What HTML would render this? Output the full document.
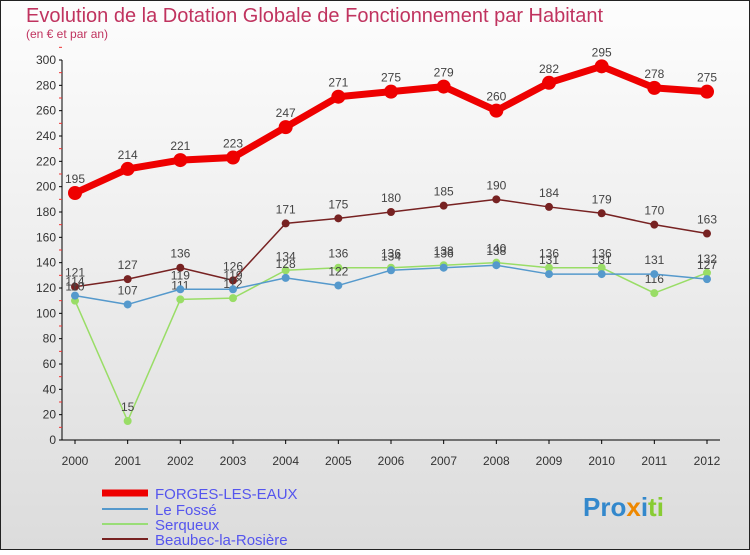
<!DOCTYPE html>
<html><head><meta charset="utf-8"><style>
body{margin:0;width:750px;height:550px;overflow:hidden;font-family:"Liberation Sans",sans-serif}
svg text{font-family:"Liberation Sans",sans-serif}
</style></head><body>
<svg width="750" height="550" xmlns="http://www.w3.org/2000/svg">
<defs><linearGradient id="bg" x1="0" y1="0" x2="0" y2="1"><stop offset="0" stop-color="#fdfdfd"/><stop offset="1" stop-color="#dcdcdc"/></linearGradient></defs>
<rect x="0.5" y="0.5" width="749" height="549" fill="url(#bg)" stroke="#222"/>
<text x="26" y="22" font-size="20" fill="#c0335f">Evolution de la Dotation Globale de Fonctionnement par Habitant</text>
<text x="26" y="38" font-size="12" fill="#c0335f">(en € et par an)</text>
<g id="axes"></g><g id="series"></g>
<g>
<line x1="102" y1="493" x2="148" y2="493" stroke="#ee0000" stroke-width="7"/><text x="155" y="499" font-size="15" fill="#5555ee">FORGES-LES-EAUX</text>
<line x1="102" y1="509" x2="148" y2="509" stroke="#5599cc" stroke-width="2"/><text x="155" y="515" font-size="15" fill="#5555ee">Le Fossé</text>
<line x1="102" y1="524" x2="148" y2="524" stroke="#99dd77" stroke-width="2"/><text x="155" y="530" font-size="15" fill="#5555ee">Serqueux</text>
<line x1="102" y1="539" x2="148" y2="539" stroke="#772222" stroke-width="2"/><text x="155" y="545" font-size="15" fill="#5555ee">Beaubec-la-Rosière</text>
</g>
<text x="583" y="516" font-size="26" font-weight="bold"><tspan fill="#3388cc">Pro</tspan><tspan fill="#ee8800">x</tspan><tspan fill="#3388cc">i</tspan><tspan fill="#88cc33">ti</tspan></text>
</svg>
<script>
const years=[2000,2001,2002,2003,2004,2005,2006,2007,2008,2009,2010,2011,2012];
const yTicks=[0,20,40,60,80,100,120,140,160,180,200,220,240,260,280,300];
const forges=[195,214,221,223,247,271,275,279,260,282,295,278,275];
const fosse=[114,107,119,119,128,122,134,136,138,131,131,131,127];
const serqueux=[110,15,111,112,134,136,136,138,140,136,136,116,132];
const beaubec=[121,127,136,126,171,175,180,185,190,184,179,170,163];
const NS="http://www.w3.org/2000/svg";
function xs(i){return 75+i*(707-75)/(years.length-1);}
function ys(v){return 440-v*380/300;}
function mk(t,a,p){const e=document.createElementNS(NS,t);for(const k in a)e.setAttribute(k,a[k]);p.appendChild(e);return e;}
const ax=document.getElementById('axes');
let yl=mk('line',{x1:62,y1:60,x2:62,y2:440,stroke:'#000'},ax);


yTicks.forEach(v=>{mk('line',{x1:59,y1:ys(v),x2:62,y2:ys(v),stroke:'#000'},ax);
mk('line',{x1:59,y1:ys(v+10),x2:62,y2:ys(v+10),stroke:'#e33'},ax);
const t=mk('text',{x:56,y:ys(v)+4,'font-size':12,'text-anchor':'end',fill:'#333'},ax);t.textContent=v;

});
let xl=mk('line',{x1:62,y1:440,x2:720,y2:440,stroke:'#000'},ax);


years.forEach((y,i)=>{mk('line',{x1:xs(i),y1:440,x2:xs(i),y2:444,stroke:'#000'},ax);
const t=mk('text',{x:xs(i),y:465,'font-size':12,'text-anchor':'middle',fill:'#333'},ax);t.textContent=y;

});
const sg=document.getElementById('series');
function draw(vals,color,w,r,name){const g=mk('g',{},sg);


mk('polyline',{points:vals.map((v,i)=>xs(i)+','+ys(v)).join(' '),fill:'none',stroke:color,'stroke-width':w,'stroke-linejoin':'round'},g);
vals.forEach((v,i)=>{const c=mk('circle',{cx:xs(i),cy:ys(v),r:r,fill:color},g);


const t=mk('text',{x:xs(i),y:ys(v)-10,'font-size':12,'text-anchor':'middle',fill:'#444'},g);t.textContent=v;

});}
draw(beaubec,'#772222',1.5,4,'beaubec-series');
draw(serqueux,'#99dd66',1.5,4,'serqueux-series');
draw(fosse,'#5599cc',1.5,4,'fosse-series');
draw(forges,'#ee0000',7,7,'forges-series');
</script>
</body></html>
